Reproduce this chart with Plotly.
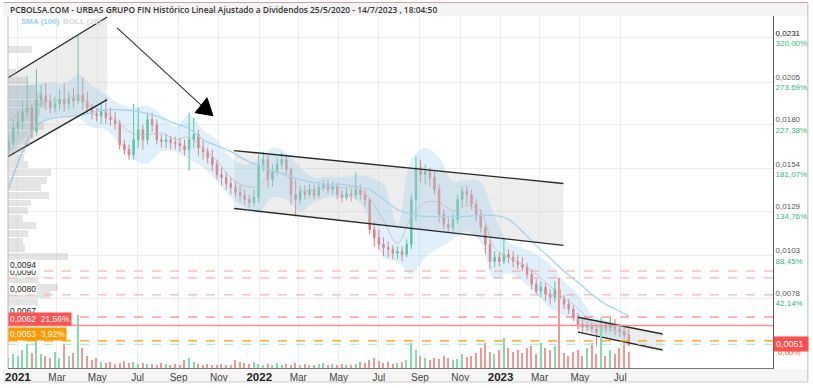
import plotly.graph_objects as go
import pandas as pd

# ---------------- data (weekly candles) ----------------
dates = pd.date_range("2020-12-18", periods=135, freq="7D")

open_ = [
    0.01654, 0.01695, 0.01783, 0.01818, 0.01876, 0.01900, 0.01759, 0.01947, 0.01970, 0.01935,
    0.01900, 0.01923, 0.01947, 0.01923, 0.01958, 0.01941, 0.01976, 0.01935, 0.01900, 0.01865,
    0.01853, 0.01876, 0.01841, 0.01830, 0.01806, 0.01683, 0.01654, 0.01624, 0.01712, 0.01771,
    0.01712, 0.01830, 0.01800, 0.01712, 0.01701, 0.01712, 0.01695, 0.01689, 0.01677, 0.01654,
    0.01712, 0.01742, 0.01665, 0.01642, 0.01607, 0.01566, 0.01507, 0.01490, 0.01454, 0.01431,
    0.01402, 0.01384, 0.01361, 0.01343, 0.01372, 0.01566, 0.01595, 0.01478, 0.01525, 0.01566,
    0.01595, 0.01537, 0.01390, 0.01361, 0.01408, 0.01390, 0.01419, 0.01384, 0.01431, 0.01449,
    0.01419, 0.01437, 0.01390, 0.01372, 0.01396, 0.01384, 0.01419, 0.01390, 0.01361, 0.01185,
    0.01138, 0.01097, 0.01079, 0.01068, 0.01044, 0.01056, 0.01038, 0.01097, 0.01361, 0.01548,
    0.01507, 0.01525, 0.01490, 0.01419, 0.01273, 0.01214, 0.01197, 0.01244, 0.01361, 0.01408,
    0.01390, 0.01331, 0.01273, 0.01197, 0.01097, 0.00997, 0.01021, 0.00997, 0.01038, 0.01021,
    0.00997, 0.00980, 0.00962, 0.00921, 0.00863, 0.00822, 0.00845, 0.00804, 0.00786, 0.00833,
    0.00775, 0.00745, 0.00716, 0.00669, 0.00628, 0.00611, 0.00616, 0.00599, 0.00581, 0.00622,
    0.00605, 0.00628, 0.00599, 0.00587, 0.00564]

close = [
    0.01695, 0.01783, 0.01818, 0.01876, 0.01900, 0.01759, 0.01947, 0.01970, 0.01935, 0.01900,
    0.01923, 0.01947, 0.01923, 0.01958, 0.01941, 0.01976, 0.01935, 0.01900, 0.01865, 0.01853,
    0.01876, 0.01841, 0.01830, 0.01806, 0.01683, 0.01654, 0.01624, 0.01712, 0.01771, 0.01712,
    0.01830, 0.01800, 0.01712, 0.01701, 0.01712, 0.01695, 0.01689, 0.01677, 0.01654, 0.01712,
    0.01742, 0.01665, 0.01642, 0.01607, 0.01566, 0.01507, 0.01490, 0.01454, 0.01431, 0.01402,
    0.01384, 0.01361, 0.01343, 0.01372, 0.01566, 0.01595, 0.01478, 0.01525, 0.01566, 0.01595,
    0.01537, 0.01390, 0.01361, 0.01408, 0.01390, 0.01419, 0.01384, 0.01431, 0.01449, 0.01419,
    0.01437, 0.01390, 0.01372, 0.01396, 0.01384, 0.01419, 0.01390, 0.01361, 0.01185, 0.01138,
    0.01097, 0.01079, 0.01068, 0.01044, 0.01056, 0.01038, 0.01097, 0.01361, 0.01548, 0.01507,
    0.01525, 0.01490, 0.01419, 0.01273, 0.01214, 0.01197, 0.01244, 0.01361, 0.01408, 0.01390,
    0.01331, 0.01273, 0.01197, 0.01097, 0.00997, 0.01021, 0.00997, 0.01038, 0.01021, 0.00997,
    0.00980, 0.00962, 0.00921, 0.00863, 0.00822, 0.00845, 0.00804, 0.00786, 0.00833, 0.00775,
    0.00745, 0.00716, 0.00669, 0.00628, 0.00611, 0.00616, 0.00599, 0.00581, 0.00622, 0.00605,
    0.00628, 0.00599, 0.00587, 0.00564, 0.00505]

high = [
    0.01742, 0.01830, 0.01876, 0.01947, 0.02087, 0.01917, 0.02128, 0.02035, 0.02046, 0.01976,
    0.01964, 0.02005, 0.02046, 0.01994, 0.02017, 0.02322, 0.02076, 0.01994, 0.01923, 0.01900,
    0.01923, 0.01958, 0.01900, 0.01876, 0.01830, 0.01712, 0.01683, 0.01923, 0.01900, 0.01800,
    0.01871, 0.01871, 0.01830, 0.01742, 0.01747, 0.01736, 0.01730, 0.01724, 0.01712, 0.01871,
    0.01841, 0.01771, 0.01712, 0.01665, 0.01654, 0.01595, 0.01548, 0.01525, 0.01490, 0.01466,
    0.01443, 0.01419, 0.01390, 0.01419, 0.01624, 0.01642, 0.01619, 0.01566, 0.01607, 0.01636,
    0.01624, 0.01548, 0.01478, 0.01443, 0.01443, 0.01454, 0.01449, 0.01466, 0.01478, 0.01478,
    0.01466, 0.01460, 0.01419, 0.01431, 0.01431, 0.01519, 0.01449, 0.01419, 0.01372, 0.01232,
    0.01185, 0.01138, 0.01115, 0.01091, 0.01085, 0.01085, 0.01126, 0.01390, 0.01613, 0.01595,
    0.01566, 0.01548, 0.01525, 0.01449, 0.01302, 0.01255, 0.01279, 0.01390, 0.01437, 0.01443,
    0.01419, 0.01361, 0.01302, 0.01214, 0.01126, 0.01056, 0.01050, 0.01138, 0.01068, 0.01056,
    0.01033, 0.01021, 0.00986, 0.00950, 0.00892, 0.00880, 0.00868, 0.00833, 0.00880, 0.00845,
    0.00798, 0.00775, 0.00740, 0.00693, 0.00658, 0.00646, 0.00634, 0.00628, 0.00669, 0.00646,
    0.00669, 0.00658, 0.00622, 0.00611, 0.00599]

low = [
    0.01607, 0.01671, 0.01742, 0.01771, 0.01841, 0.01718, 0.01736, 0.01900, 0.01888, 0.01865,
    0.01871, 0.01888, 0.01876, 0.01888, 0.01900, 0.01923, 0.01888, 0.01865, 0.01830, 0.01818,
    0.01806, 0.01806, 0.01794, 0.01771, 0.01654, 0.01624, 0.01595, 0.01595, 0.01665, 0.01654,
    0.01683, 0.01759, 0.01683, 0.01665, 0.01665, 0.01654, 0.01654, 0.01642, 0.01619, 0.01531,
    0.01665, 0.01619, 0.01595, 0.01572, 0.01525, 0.01478, 0.01443, 0.01419, 0.01390, 0.01372,
    0.01349, 0.01331, 0.01314, 0.01320, 0.01343, 0.01525, 0.01431, 0.01437, 0.01501, 0.01537,
    0.01507, 0.01331, 0.01261, 0.01331, 0.01361, 0.01372, 0.01361, 0.01367, 0.01408, 0.01396,
    0.01390, 0.01361, 0.01343, 0.01355, 0.01349, 0.01361, 0.01361, 0.01320, 0.01156, 0.01085,
    0.01068, 0.01027, 0.01021, 0.01009, 0.01009, 0.00997, 0.01021, 0.01068, 0.01232, 0.01460,
    0.01449, 0.01437, 0.01390, 0.01226, 0.01185, 0.01167, 0.01173, 0.01214, 0.01320, 0.01331,
    0.01302, 0.01232, 0.01167, 0.01038, 0.00950, 0.00962, 0.00968, 0.00980, 0.00986, 0.00962,
    0.00950, 0.00939, 0.00892, 0.00833, 0.00804, 0.00786, 0.00763, 0.00745, 0.00757, 0.00734,
    0.00716, 0.00687, 0.00646, 0.00599, 0.00581, 0.00587, 0.00575, 0.00499, 0.00564, 0.00575,
    0.00581, 0.00564, 0.00552, 0.00540, 0.00499]

volume_m = [
    10, 14, 12, 18, 24, 15, 40, 14, 12, 10,
    16, 10, 24, 12, 15, 53, 20, 12, 8, 10,
    6, 5, 6, 4, 5, 7, 5, 6, 4, 5,
    4, 4, 3, 5, 4, 3, 4, 3, 8, 10,
    6, 4, 3, 4, 3, 3, 4, 3, 3, 8,
    6, 5, 4, 6, 4, 3, 4, 3, 5, 3,
    4, 3, 5, 3, 4, 3, 3, 4, 5, 3,
    4, 3, 4, 3, 3, 4, 6, 5, 8, 10,
    7, 5, 6, 4, 5, 6, 8, 25, 18, 12,
    10, 8, 10, 9, 12, 10, 8, 9, 14, 11,
    12, 15, 20, 25, 16, 14, 18, 30, 20, 16,
    18, 15, 20, 22, 14, 25, 20, 18, 22, 90,
    15, 12, 16, 18, 12, 20, 25, 14, 40, 12,
    18, 14, 20, 25, 16]

# indicators read every third week (plus the last one)
band_idx = list(range(0, 135, 3)) + [134]
boll_upper = [
    0.02029, 0.02029, 0.02040, 0.02046, 0.02040, 0.02093, 0.02029, 0.01976, 0.01923, 0.01900,
    0.01912, 0.01859, 0.01788, 0.01859, 0.01771, 0.01712, 0.01607, 0.01566, 0.01595, 0.01665,
    0.01636, 0.01548, 0.01490, 0.01495, 0.01490, 0.01501, 0.01490, 0.01449, 0.01214, 0.01595,
    0.01665, 0.01607, 0.01466, 0.01478, 0.01460, 0.01261, 0.01109, 0.01079, 0.01038, 0.00980,
    0.00880, 0.00804, 0.00687, 0.00646, 0.00634, 0.00616]
boll_lower = [
    0.01619, 0.01712, 0.01783, 0.01841, 0.01853, 0.01841, 0.01783, 0.01771, 0.01683, 0.01595,
    0.01572, 0.01642, 0.01642, 0.01595, 0.01548, 0.01466, 0.01372, 0.01314, 0.01285, 0.01372,
    0.01361, 0.01290, 0.01343, 0.01372, 0.01372, 0.01361, 0.01244, 0.01021, 0.00992, 0.00921,
    0.01021, 0.01079, 0.01126, 0.01173, 0.01109, 0.00892, 0.00927, 0.00880, 0.00804, 0.00722,
    0.00681, 0.00640, 0.00581, 0.00552, 0.00540, 0.00523]
sma100 = [
    0.01425, 0.01642, 0.01794, 0.01835, 0.01847, 0.01853, 0.01871, 0.01888, 0.01888, 0.01882,
    0.01865, 0.01841, 0.01806, 0.01777, 0.01712, 0.01677, 0.01642, 0.01595, 0.01560, 0.01531,
    0.01507, 0.01478, 0.01460, 0.01449, 0.01449, 0.01437, 0.01419, 0.01361, 0.01302, 0.01273,
    0.01261, 0.01261, 0.01261, 0.01261, 0.01267, 0.01267, 0.01244, 0.01173, 0.01091, 0.01015,
    0.00939, 0.00874, 0.00804, 0.00745, 0.00704, 0.00675]

# volume-at-price profile (left)
profile_price = [
    0.02240, 0.02195, 0.02150, 0.02105, 0.02060, 0.02015, 0.01970, 0.01925, 0.01880, 0.01835,
    0.01790, 0.01745, 0.01700, 0.01655, 0.01610, 0.01565, 0.01520, 0.01475, 0.01430, 0.01385,
    0.01340, 0.01295, 0.01250, 0.01205, 0.01160, 0.01115, 0.01070, 0.01025, 0.00980, 0.00935,
    0.00890, 0.00845, 0.00800, 0.00755, 0.00710, 0.00665, 0.00620, 0.00575]
profile_vol = [
    24, 0, 0, 8, 18, 28, 34, 38, 32, 30,
    36, 26, 22, 18, 16, 20, 43, 39, 33, 41,
    23, 20, 15, 28, 20, 15, 17, 60, 12, 14,
    30, 50, 42, 30, 22, 26, 18, 12]

# user drawings (channels, arrow)
ch1_dates = ["2020-12-17", "2021-05-16"]
ch1_top = [0.02076, 0.02433]
ch1_bot = [0.01613, 0.01947]
ch2_dates = ["2021-11-24", "2023-04-06"]
ch2_top = [0.01648, 0.01455]
ch2_bot = [0.01308, 0.01091]
ch3_dates = ["2023-04-28", "2023-09-03"]
ch3_top = [0.00669, 0.00570]
ch3_bot = [0.00581, 0.00476]
arrow_dates = ["2021-05-31", "2021-10-05"]
arrow_prices = [0.02369, 0.01915]
head_dates = ["2021-09-26", "2021-10-14", "2021-10-23"]
head_prices = [0.01871, 0.01958, 0.01853]

# horizontal levels
levels = [0.0094, 0.0090, 0.0080, 0.0067, 0.0062, 0.0053, 0.0051]

# axis ticks
y_ticks = [0.0231, 0.0205, 0.0180, 0.0154, 0.0129, 0.0103, 0.0078]
y_price_lbl = ["0,0231", "0,0205", "0,0180", "0,0154", "0,0129", "0,0103", "0,0078"]
y_pct_lbl = ["320,00%", "273,69%", "227,38%", "181,07%", "134,76%", "88,45%", "42,14%"]
x_ticks = ["2021-01-01", "2021-03-01", "2021-05-01", "2021-07-01", "2021-09-01", "2021-11-01",
           "2022-01-01", "2022-03-01", "2022-05-01", "2022-07-01", "2022-09-01", "2022-11-01",
           "2023-01-01", "2023-03-01", "2023-05-01", "2023-07-01"]
x_lbl = ["2021", "Mar", "May", "Jul", "Sep", "Nov", "2022", "Mar", "May", "Jul", "Sep", "Nov",
         "2023", "Mar", "May", "Jul"]

# ---------------- styling ----------------
GREEN = "#45c285"
RED = "#f06c6c"
VGREEN = "#82dcae"
VRED = "#f39696"
NARROW = "Liberation Sans Narrow, Arial Narrow, Liberation Sans, Arial"
SANS = "Liberation Sans, Arial, sans-serif"

band_dates = [dates[i] for i in band_idx]
boll_mid = [(u + l) / 2 for u, l in zip(boll_upper, boll_lower)]

fig = go.Figure()

# channel fills
for d, t, b in [(ch1_dates, ch1_top, ch1_bot), (ch2_dates, ch2_top, ch2_bot), (ch3_dates, ch3_top, ch3_bot)]:
    fig.add_trace(go.Scatter(x=[d[0], d[1], d[1], d[0], d[0]], y=[t[0], t[1], b[1], b[0], t[0]],
                             fill="toself", fillcolor="rgba(200,200,200,0.32)", mode="none",
                             hoverinfo="skip"))

# Bollinger band
fig.add_trace(go.Scatter(x=band_dates, y=boll_upper, mode="lines", line=dict(width=0, shape="spline"),
                         hoverinfo="skip"))
fig.add_trace(go.Scatter(x=band_dates, y=boll_lower, mode="lines", line=dict(width=0, shape="spline"),
                         fill="tonexty", fillcolor="rgba(150,205,240,0.30)", hoverinfo="skip"))
fig.add_trace(go.Scatter(x=band_dates, y=boll_mid, mode="lines",
                         line=dict(width=1, color="rgba(205,185,185,0.8)", shape="spline"), hoverinfo="skip"))
# SMA 100
fig.add_trace(go.Scatter(x=band_dates, y=sma100, mode="lines",
                         line=dict(width=1.3, color="#a3d3f3", shape="spline"), hoverinfo="skip"))

# candles
fig.add_trace(go.Candlestick(x=dates, open=open_, high=high, low=low, close=close,
                             increasing=dict(line=dict(color=GREEN, width=1), fillcolor=GREEN),
                             decreasing=dict(line=dict(color=RED, width=1), fillcolor=RED),
                             whiskerwidth=0, hoverinfo="skip"))

# channel lines and arrow
for d, t, b in [(ch1_dates, ch1_top, ch1_bot), (ch2_dates, ch2_top, ch2_bot), (ch3_dates, ch3_top, ch3_bot)]:
    for yy in (t, b):
        fig.add_trace(go.Scatter(x=d, y=yy, mode="lines", line=dict(color="#2a2a2a", width=1.4),
                                 hoverinfo="skip"))
fig.add_trace(go.Scatter(x=arrow_dates, y=arrow_prices, mode="lines", line=dict(color="#333333", width=1.1),
                         hoverinfo="skip"))
fig.add_trace(go.Scatter(x=head_dates + head_dates[:1], y=head_prices + head_prices[:1], fill="toself",
                         fillcolor="#000000", mode="lines", line=dict(color="#000000", width=1),
                         hoverinfo="skip"))

# volume profile (overlay x axis)
fig.add_trace(go.Bar(y=profile_price, x=profile_vol, orientation="h", xaxis="x2", yaxis="y",
                     width=0.00041, marker=dict(color="rgba(170,170,170,0.32)", line=dict(width=0)),
                     hoverinfo="skip"))

# volume (overlay y axis)
vol_colors = [VGREEN if c >= o else VRED for o, c in zip(open_, close)]
fig.add_trace(go.Bar(x=dates, y=volume_m, yaxis="y3", marker=dict(color=vol_colors, line=dict(width=0)),
                     width=2.2 * 86400000, hoverinfo="skip"))

# horizontal levels
lvl_style = [("#ff9e9e", "dash", 1), ("#ff9e9e", "dash", 1), ("#ff9e9e", "dash", 1),
             ("#ff6a6a", "dash", 1), ("#ff8e8e", "solid", 1.5), ("#ff9900", "dash", 1.2),
             ("#a8e2c6", "dash", 1.2)]
shapes = []
for lv, (col, dash, w) in zip(levels, lvl_style):
    shapes.append(dict(type="line", xref="paper", x0=0, x1=1, yref="y", y0=lv, y1=lv,
                       line=dict(color=col, dash=dash, width=w), layer="above"))

# frame pieces
def px_x(px):
    return (px - 5) / 768.0

def px_y(py):
    return (369 - py) / 353.0

shapes.append(dict(type="rect", xref="paper", yref="paper", x0=px_x(0), x1=px_x(808), y0=px_y(16), y1=px_y(3),
                   fillcolor="#f4f4f4", line=dict(width=0), layer="below"))
shapes.append(dict(type="rect", xref="paper", yref="paper", x0=px_x(0), x1=px_x(808), y0=px_y(383), y1=px_y(370),
                   fillcolor="#f5f5f5", line=dict(width=0), layer="below"))
shapes.append(dict(type="line", xref="paper", yref="paper", x0=px_x(0.5), x1=px_x(808), y0=px_y(2.5), y1=px_y(2.5),
                   line=dict(color="#c9a3a3", width=1)))
shapes.append(dict(type="line", xref="paper", yref="paper", x0=px_x(808), x1=px_x(808), y0=px_y(383), y1=px_y(2.5),
                   line=dict(color="#bbbbbb", width=1)))
shapes.append(dict(type="line", xref="paper", yref="paper", x0=px_x(0.5), x1=px_x(808), y0=px_y(383), y1=px_y(383),
                   line=dict(color="#cccccc", width=1)))
shapes.append(dict(type="line", xref="paper", yref="paper", x0=0, x1=0, y0=0, y1=1,
                   line=dict(color="#bbbbbb", width=1)))

annotations = [
    dict(text="PCBOLSA.COM - URBAS GRUPO FIN Histórico Lineal Ajustado a Dividendos 25/5/2020 - 14/7/2023 , 18:04:50",
         xref="paper", yref="paper", x=px_x(5), y=px_y(9.5), xanchor="left", yanchor="middle", showarrow=False,
         font=dict(family="Open Sans, Noto Sans, sans-serif", size=8.4, color="#333333", weight=600)),
    dict(text="<b>SMA (100)</b>", xref="paper", yref="paper", x=px_x(16), y=px_y(22), xanchor="left",
         yanchor="middle", showarrow=False, font=dict(family=SANS, size=8, color="#9ccff3")),
    dict(text="<b>BOLL (20)</b>", xref="paper", yref="paper", x=px_x(58), y=px_y(22), xanchor="left",
         yanchor="middle", showarrow=False, font=dict(family=SANS, size=8, color="#d6d6d6")),
]
left_lbl = [("0,0090", 0.0090), ("0,0094", 0.0094), ("0,0080", 0.0080), ("0,0067", 0.0067)]
for t, v in left_lbl:
    annotations.append(dict(text=t, xref="paper", yref="y", x=px_x(6), y=v, xanchor="left", yanchor="bottom",
                            showarrow=False, bgcolor="white", borderpad=0, yshift=0,
                            font=dict(family=SANS, size=8.5, color="#222222")))
annotations.append(dict(text="0,0062  21,56%", xref="paper", yref="y", x=px_x(5), y=0.0062, xanchor="left",
                        yanchor="bottom", showarrow=False, bgcolor="#ff5252", borderpad=1, yshift=0,
                        font=dict(family=SANS, size=8.5, color="white")))
annotations.append(dict(text="0,0053  3,92%", xref="paper", yref="y", x=px_x(5), y=0.0053, xanchor="left",
                        yanchor="bottom", showarrow=False, bgcolor="#ff9a00", borderpad=1, yshift=0,
                        font=dict(family=SANS, size=8.5, color="white")))
annotations.append(dict(text="0,00%", xref="paper", yref="y", x=px_x(776), y=0.0051, xanchor="left",
                        yanchor="middle", yshift=-8, showarrow=False,
                        font=dict(family=SANS, size=8, color="#ff4d4d")))
annotations.append(dict(text="0,0051 ", xref="paper", yref="y", x=1, y=0.0051, xanchor="left",
                        yanchor="middle", showarrow=False, bgcolor="#ff4d4d", borderpad=2,
                        font=dict(family=SANS, size=9, color="white")))

y_text = []
for i, (p, q) in enumerate(zip(y_price_lbl, y_pct_lbl)):
    pc = "#111111" if i == 0 else "#555555"
    y_text.append(f"<span style='color:{pc}'>{p}</span><br><span style='color:#37b57a'>{q}</span>")
x_text = [f"<b><span style='font-size:11.5px;color:#222'>{t}</span></b>" if t.isdigit() else t for t in x_lbl]

fig.update_layout(
    width=813, height=388, margin=dict(l=5, r=40, t=16, b=19),
    paper_bgcolor="white", plot_bgcolor="white", showlegend=False,
    bargap=0, boxgap=0.55,
    xaxis=dict(type="date", range=["2020-12-17", "2024-02-17"], tickmode="array", tickvals=x_ticks,
               ticktext=x_text, showgrid=True, gridcolor="#ededed", gridwidth=1, showline=True,
               linecolor="#777777", linewidth=1, ticks="", zeroline=False, rangeslider=dict(visible=False),
               tickfont=dict(family=NARROW, size=10, color="#444444")),
    yaxis=dict(side="right", range=[0.003704, 0.024389], tickmode="array", tickvals=y_ticks, ticktext=y_text,
               showgrid=True, gridcolor="#ededed", gridwidth=1, showline=True, linecolor="#555555",
               linewidth=1, ticks="", zeroline=False, tickfont=dict(family=SANS, size=8, color="#555555")),
    xaxis2=dict(overlaying="x", range=[0, 768], visible=False, anchor="y"),
    yaxis3=dict(overlaying="y", range=[0, 353], visible=False, anchor="x"),
    shapes=shapes, annotations=annotations,
)

fig.write_html("out.html", config={"displayModeBar": False},
               post_script="document.body.style.margin='0';document.body.style.overflow='hidden';")
